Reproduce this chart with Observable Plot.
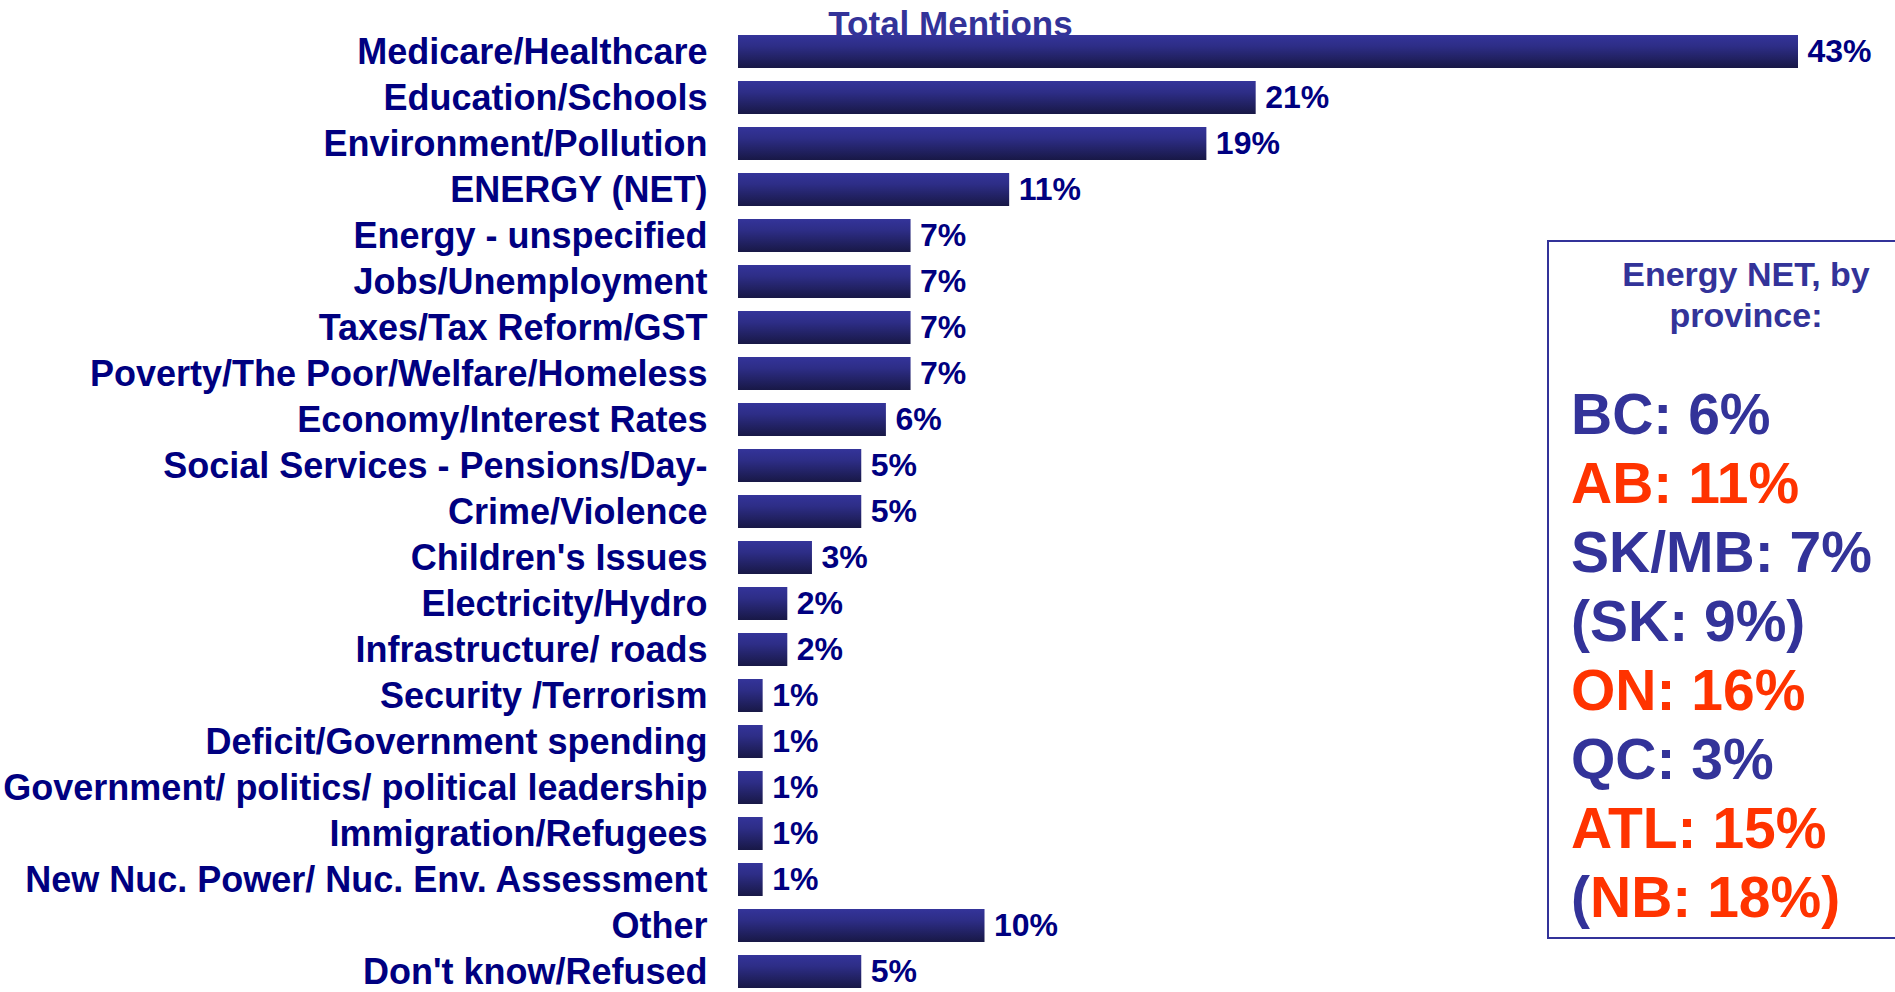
<!DOCTYPE html>
<html>
<head>
<meta charset="utf-8">
<script src="https://cdn.jsdelivr.net/npm/d3@7"></script>
<script src="https://cdn.jsdelivr.net/npm/@observablehq/plot@0.6"></script>
<style>
  html, body { margin: 0; padding: 0; background: #fff; overflow: hidden; }
  #wrap { position: relative; width: 1895px; height: 992px; font-family: "Liberation Sans", Arial, sans-serif; overflow: hidden; }
  #chart svg { display: block; }
  #box { position: absolute; left: 1547px; top: 240px; width: 420px; height: 699px; border: 2px solid #333399; box-sizing: border-box; }
  #boxTitle { position: absolute; left: 1546px; width: 400px; top: 254px; text-align: center; font-weight: bold; font-size: 34px; line-height: 41px; color: #333399; }
  #boxLines { position: absolute; left: 1571px; top: 380px; font-weight: bold; font-size: 57px; line-height: 69px; white-space: nowrap; }
</style>
</head>
<body>
<div id="wrap">
  <div id="chart"></div>
  <div id="box"></div>
  <div id="boxTitle"></div>
  <div id="boxLines"></div>
</div>
<script>
// ---- data ----
const categories = [
  "Medicare/Healthcare",
  "Education/Schools",
  "Environment/Pollution",
  "ENERGY (NET)",
  "Energy - unspecified",
  "Jobs/Unemployment",
  "Taxes/Tax Reform/GST",
  "Poverty/The Poor/Welfare/Homeless",
  "Economy/Interest Rates",
  "Social Services - Pensions/Day-",
  "Crime/Violence",
  "Children's Issues",
  "Electricity/Hydro",
  "Infrastructure/ roads",
  "Security /Terrorism",
  "Deficit/Government spending",
  "Government/ politics/ political leadership",
  "Immigration/Refugees",
  "New Nuc. Power/ Nuc. Env. Assessment",
  "Other",
  "Don't know/Refused"
];
const values = [43, 21, 19, 11, 7, 7, 7, 7, 6, 5, 5, 3, 2, 2, 1, 1, 1, 1, 1, 10, 5];
const chartTitle = "Total Mentions";
const boxTitle = ["Energy NET, by", "province:"];
// each line: list of [text, colorKey]
const provinceLines = [
  [["BC: 6%", "blue"]],
  [["AB: 11%", "red"]],
  [["SK/MB: 7%", "blue"]],
  [["(SK: 9%)", "blue"]],
  [["ON: 16%", "red"]],
  [["QC: 3%", "blue"]],
  [["ATL: 15%", "red"]],
  [["(", "blue"], ["NB: 18%)", "red"]]
];
const colors = { blue: "#333399", red: "#FF3300" };

const data = categories.map((c, i) => ({ label: c, value: values[i] }));

const chart = Plot.plot({
  width: 1895,
  height: 992,
  marginLeft: 738,
  marginRight: 97,
  marginTop: 31,
  marginBottom: 0.5,
  style: { fontFamily: "'Liberation Sans', Arial, sans-serif", background: "transparent" },
  x: { domain: [0, 43], axis: null },
  y: { domain: categories, paddingInner: 0.277, paddingOuter: 0, label: null },
  marks: [
    Plot.text([chartTitle], {
      x: [8.6], frameAnchor: "top", text: d => d, textAnchor: "middle", lineAnchor: "bottom",
      dy: 4, fontSize: 35, fontWeight: "bold", fill: "#333399"
    }),
    Plot.barX(data, { x: "value", y: "label", fill: "url(#barGrad)" }),
    Plot.text(data, {
      x: "value", y: "label", text: d => d.value + "%", textAnchor: "start", dx: 9,
      fontSize: 32, fontWeight: "bold", fill: "#000080"
    }),
    Plot.axisY({
      tickSize: 0, tickPadding: 31, fontSize: 36, fontWeight: "bold", fill: "#000080", label: null
    })
  ]
});

// gradient definition for bars
const ns = "http://www.w3.org/2000/svg";
const defs = document.createElementNS(ns, "defs");
const grad = document.createElementNS(ns, "linearGradient");
grad.setAttribute("id", "barGrad");
grad.setAttribute("x1", "0"); grad.setAttribute("y1", "0");
grad.setAttribute("x2", "0"); grad.setAttribute("y2", "1");
[["0", "#34349a"], ["0.35", "#2d2d86"], ["1", "#181846"]].forEach(([o, c]) => {
  const s = document.createElementNS(ns, "stop");
  s.setAttribute("offset", o); s.setAttribute("stop-color", c);
  grad.appendChild(s);
});
defs.appendChild(grad);
chart.insertBefore(defs, chart.firstChild);
document.getElementById("chart").appendChild(chart);

// province box
const bt = document.getElementById("boxTitle");
boxTitle.forEach(t => { const d = document.createElement("div"); d.textContent = t; bt.appendChild(d); });
const bl = document.getElementById("boxLines");
provinceLines.forEach(line => {
  const d = document.createElement("div");
  line.forEach(([t, k]) => {
    const s = document.createElement("span");
    s.textContent = t; s.style.color = colors[k];
    d.appendChild(s);
  });
  bl.appendChild(d);
});
</script>
</body>
</html>
